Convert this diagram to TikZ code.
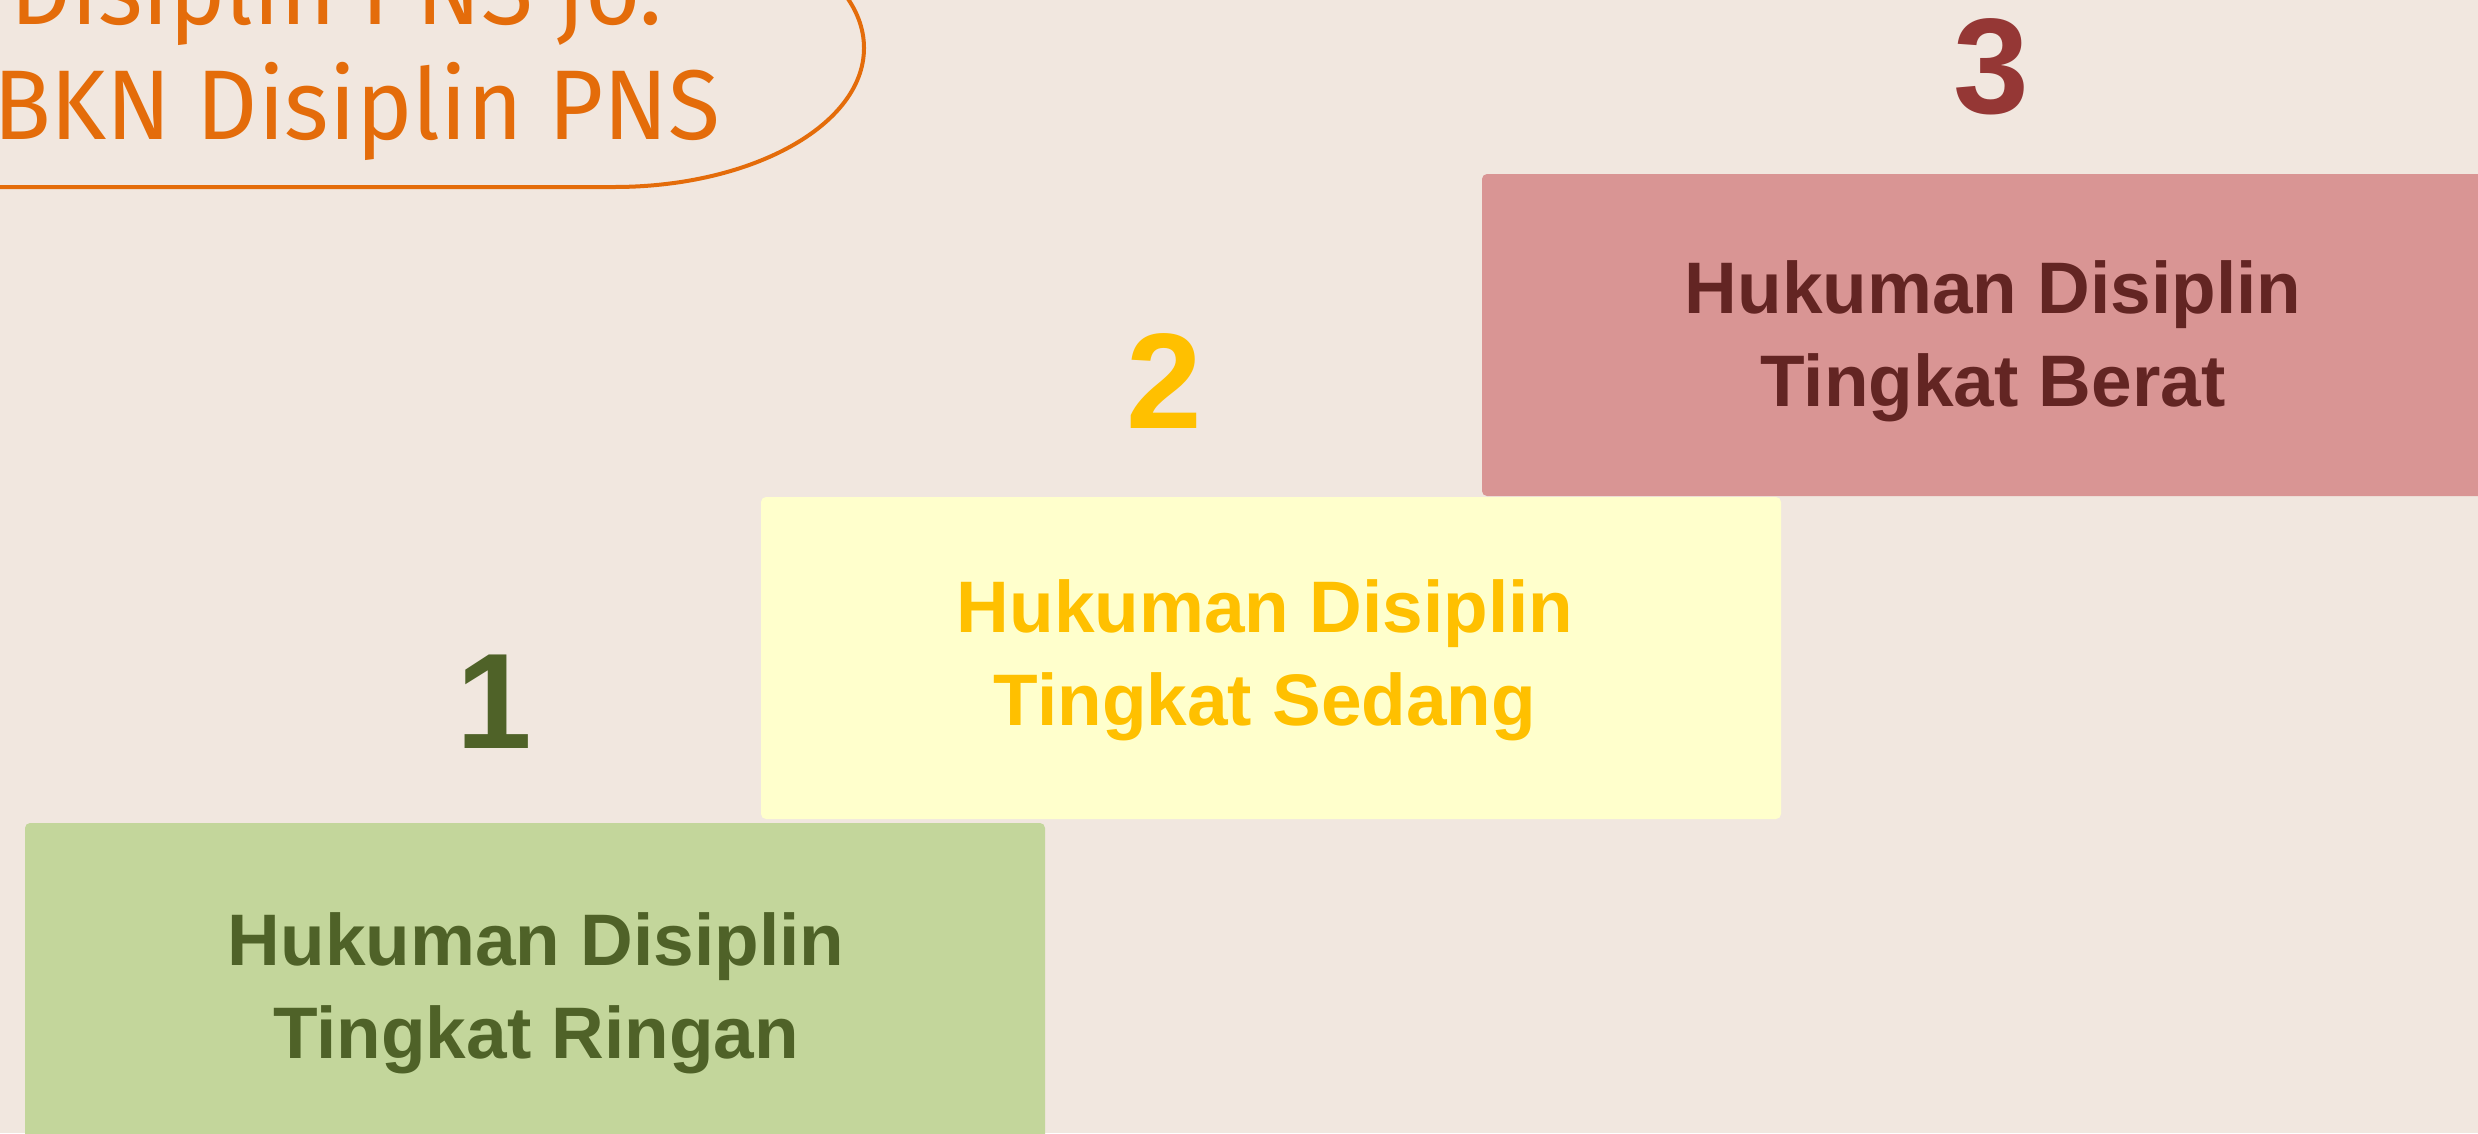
\documentclass[tikz,border=0pt]{standalone}
\usepackage{fontspec}
\newfontfamily\arialf{Liberation Sans}
\newfontfamily\firaf{Fira Sans}[FakeStretch=0.96]
\definecolor{bgc}{HTML}{F1E7DF}
\definecolor{orangec}{HTML}{E46C0A}
\definecolor{redfill}{HTML}{D99594}
\definecolor{redtext}{HTML}{632523}
\definecolor{rednum}{HTML}{953735}
\definecolor{yelfill}{HTML}{FFFFCC}
\definecolor{yeltext}{HTML}{FFC000}
\definecolor{grnfill}{HTML}{C3D69B}
\definecolor{grntext}{HTML}{4F6228}
\tikzset{
  stepbox/.style={rectangle, rounded corners=5pt, inner sep=0pt, minimum width=1020pt, minimum height=322pt},
  steptext/.style={inner sep=0pt, align=center, font=\arialf\bfseries\fontsize{73}{93}\selectfont},
  stepnum/.style={inner sep=0pt, anchor=base, font=\arialf\bfseries\fontsize{136}{140}\selectfont},
  titletext/.style={inner sep=0pt, anchor=base west, text=orangec, font=\firaf\fontsize{99}{115}\selectfont}
}
\begin{document}
\begin{tikzpicture}[x=1pt,y=-1pt]
\useasboundingbox (0,0) rectangle (2478,1133);
\clip (0,0) rectangle (2478,1133);
\fill[bgc] (0,0) rectangle (2478,1133);
% title oval
\coordinate (ovA) at (-20,187);
\coordinate (ovB) at (614,187);
\coordinate (ovC) at (864,48);
\coordinate (ovD) at (614,-91);
\coordinate (ovE) at (-20,-91);
\draw[orangec, line width=4pt] (ovA) -- (ovB) .. controls (752,187) and (864,125) .. (ovC)
   .. controls (864,-29) and (752,-91) .. (ovD) -- (ovE);
\node[titletext] (tl1) at (10,24) {Disiplin PNS jo.};
\node[titletext] (tl2) at (-7,139) {BKN Disiplin PNS};
% boxes
\node[stepbox, fill=grnfill] (b1) at (535,984) {};
\node[stepbox, fill=yelfill] (b2) at (1271,658) {};
\node[stepbox, fill=redfill] (b3) at (1992,335) {};
\node[steptext, text=grntext] (t1) at (536,993) {Hukuman Disiplin\\Tingkat Ringan};
\node[steptext, text=yeltext] (t2) at (1265,660) {Hukuman Disiplin\\Tingkat Sedang};
\node[steptext, text=redtext] (t3) at (1993,341) {Hukuman Disiplin\\Tingkat Berat};
% numbers
\node[stepnum, text=grntext] (n1) at (494,748) {1};
\node[stepnum, text=yeltext] (n2) at (1164,428) {2};
\node[stepnum, text=rednum] (n3) at (1991,113) {3};
\end{tikzpicture}
\end{document}
